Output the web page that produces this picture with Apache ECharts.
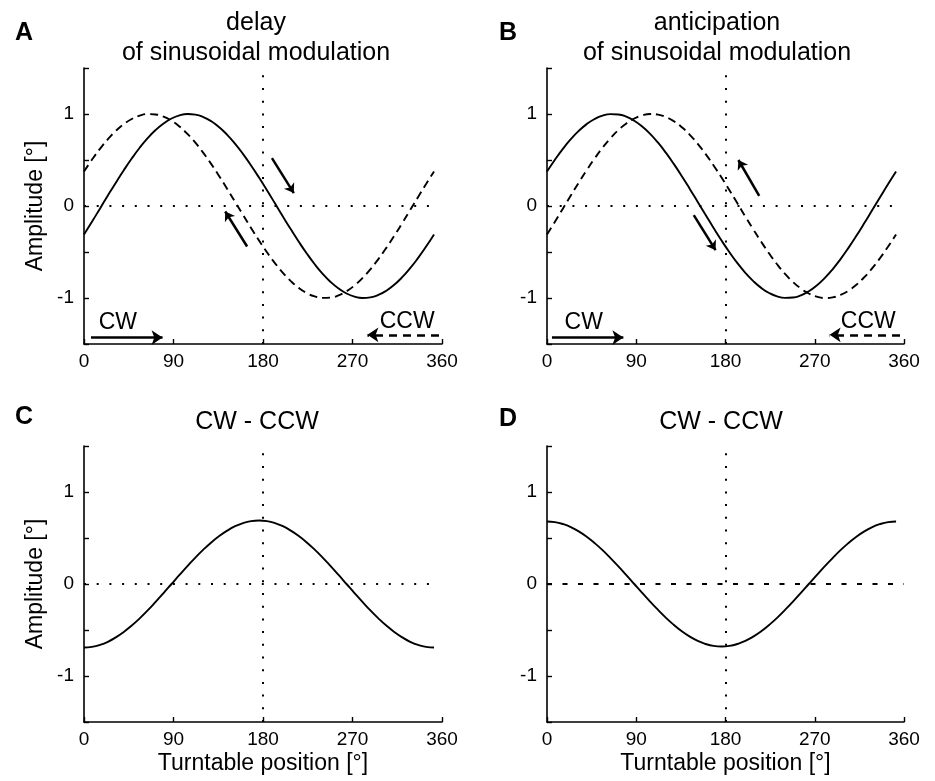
<!DOCTYPE html>
<html>
<head>
<meta charset="utf-8">
<script src="https://cdn.jsdelivr.net/npm/echarts@6/dist/echarts.min.js"></script>
<style>
html, body { margin: 0; padding: 0; background: #fff; }
#chart { width: 935px; height: 781px; }
</style>
</head>
<body>
<div id="chart"></div>
<script>
// turntable position (deg), same for every curve
var pos = [0, 8, 16, 24, 32, 40, 48, 56, 64, 72, 80, 88, 96, 104, 112, 120, 128, 136, 144, 152, 160, 168, 176,
           184, 192, 200, 208, 216, 224, 232, 240, 248, 256, 264, 272, 280, 288, 296, 304, 312, 320, 328, 336, 344, 352];

// A: delay of sinusoidal modulation
var cwDelay  = [-0.309, -0.171, -0.029, 0.114, 0.254, 0.389, 0.516, 0.633, 0.737, 0.826, 0.897, 0.951, 0.985, 1.000, 0.993, 0.967, 0.921, 0.856, 0.774, 0.676, 0.564, 0.441, 0.309,
                0.171, 0.029, -0.114, -0.254, -0.389, -0.516, -0.633, -0.737, -0.826, -0.897, -0.951, -0.985, -1.000, -0.993, -0.967, -0.921, -0.856, -0.774, -0.676, -0.564, -0.441, -0.309];
var ccwDelay = [0.375, 0.503, 0.621, 0.726, 0.816, 0.890, 0.946, 0.983, 0.999, 0.995, 0.971, 0.927, 0.864, 0.784, 0.688, 0.577, 0.455, 0.324, 0.186, 0.044, -0.098, -0.239, -0.375,
                -0.503, -0.621, -0.726, -0.816, -0.890, -0.946, -0.983, -0.999, -0.995, -0.971, -0.927, -0.864, -0.784, -0.688, -0.577, -0.455, -0.324, -0.186, -0.044, 0.098, 0.239, 0.375];
// B: anticipation of sinusoidal modulation
var cwAntic  = [0.375, 0.503, 0.621, 0.726, 0.816, 0.890, 0.946, 0.983, 0.999, 0.995, 0.971, 0.927, 0.864, 0.784, 0.688, 0.577, 0.455, 0.324, 0.186, 0.044, -0.098, -0.239, -0.375,
                -0.503, -0.621, -0.726, -0.816, -0.890, -0.946, -0.983, -0.999, -0.995, -0.971, -0.927, -0.864, -0.784, -0.688, -0.577, -0.455, -0.324, -0.186, -0.044, 0.098, 0.239, 0.375];
var ccwAntic = [-0.309, -0.171, -0.029, 0.114, 0.254, 0.389, 0.516, 0.633, 0.737, 0.826, 0.897, 0.951, 0.985, 1.000, 0.993, 0.967, 0.921, 0.856, 0.774, 0.676, 0.564, 0.441, 0.309,
                0.171, 0.029, -0.114, -0.254, -0.389, -0.516, -0.633, -0.737, -0.826, -0.897, -0.951, -0.985, -1.000, -0.993, -0.967, -0.921, -0.856, -0.774, -0.676, -0.564, -0.441, -0.309];
// C, D: CW - CCW
var diffDelay = [-0.690, -0.683, -0.662, -0.628, -0.580, -0.521, -0.452, -0.373, -0.287, -0.194, -0.098, 0.000, 0.098, 0.194, 0.287, 0.373, 0.452, 0.521, 0.580, 0.628, 0.662, 0.683, 0.690,
                 0.683, 0.662, 0.628, 0.580, 0.521, 0.452, 0.373, 0.287, 0.194, 0.098, 0.000, -0.098, -0.194, -0.287, -0.373, -0.452, -0.521, -0.580, -0.628, -0.662, -0.683, -0.690];
var diffAntic = [0.680, 0.673, 0.652, 0.619, 0.572, 0.514, 0.445, 0.368, 0.282, 0.192, 0.097, 0.000, -0.097, -0.192, -0.282, -0.368, -0.445, -0.514, -0.572, -0.619, -0.652, -0.673, -0.680,
                 -0.673, -0.652, -0.619, -0.572, -0.514, -0.445, -0.368, -0.282, -0.192, -0.097, 0.000, 0.097, 0.192, 0.282, 0.368, 0.445, 0.514, 0.572, 0.619, 0.652, 0.673, 0.680];

// axes
var xTicks = [0, 90, 180, 270, 360];
var yRange = [-1.5, 1.5];
var yStep = 0.5;

// annotation arrows [from, to] in data units
var arrowsA = [[[189, 0.52], [211, 0.14]], [[164, -0.44], [142, -0.06]]];
var arrowsB = [[[214, 0.11], [193, 0.50]], [[148, -0.10], [170, -0.48]]];
var cwArrowA = [[7, -1.43], [79, -1.43]];
var ccwArrowA = [[357, -1.40], [285, -1.40]];
var cwArrowB = [[5, -1.43], [77, -1.43]];
var ccwArrowB = [[356, -1.40], [285, -1.40]];
var dirLabelsA = [['CW', 34, -1.27], ['CCW', 325, -1.26]];
var dirLabelsB = [['CW', 37, -1.27], ['CCW', 324, -1.26]];

var FONT = '"Liberation Sans", Arial, Helvetica, sans-serif';
var DOTS = [2, 10.7];

function pairs(xs, ys) {
  return xs.map(function (x, i) { return [x, ys[i]]; });
}

function arrowItem(a, width, size, type) {
  return [
    { coord: a[0], symbol: 'none', lineStyle: { type: type || 'solid', width: width, color: '#000' } },
    { coord: a[1], symbol: 'arrow', symbolSize: size }
  ];
}

function refLines(hLine) {
  return [
    [{ coord: [180, yRange[0]] }, { coord: [180, yRange[1]] }],
    hLine
  ];
}

function xAxisFor(i, named) {
  return {
    type: 'value', gridIndex: i,
    min: xTicks[0], max: xTicks[xTicks.length - 1], interval: 90,
    name: named ? 'Turntable position [°]' : '',
    nameLocation: 'middle', nameGap: 30,
    nameTextStyle: { color: '#000', fontSize: 23, fontFamily: FONT },
    axisLine: { show: true, onZero: false, lineStyle: { color: '#000', width: 1.6 } },
    axisTick: { show: true, inside: true, length: 5, lineStyle: { color: '#000', width: 1.4 } },
    axisLabel: { color: '#000', fontSize: 19, fontFamily: FONT, margin: 8 },
    splitLine: { show: false }
  };
}

function yAxisFor(i, named) {
  return {
    type: 'value', gridIndex: i,
    min: yRange[0], max: yRange[1], interval: yStep,
    name: named ? 'Amplitude [°]' : '',
    nameLocation: 'middle', nameGap: 37,
    nameTextStyle: { color: '#000', fontSize: 23, fontFamily: FONT },
    axisLine: { show: true, onZero: false, lineStyle: { color: '#000', width: 1.6 } },
    axisTick: { show: true, inside: true, length: 5, lineStyle: { color: '#000', width: 1.4 } },
    axisLabel: {
      color: '#000', fontSize: 19, fontFamily: FONT, margin: 10,
      formatter: function (v) { return Number.isInteger(v) ? String(v) : ''; }
    },
    splitLine: { show: false }
  };
}

function curve(i, ys, dashed, extra) {
  var s = {
    type: 'line', xAxisIndex: i, yAxisIndex: i,
    data: pairs(pos, ys),
    smooth: true, showSymbol: false, silent: true, animation: false,
    lineStyle: { color: '#000', width: 1.9, type: dashed ? [8, 5] : 'solid' }
  };
  return Object.assign(s, extra || {});
}

function marks(data) {
  return {
    silent: true, animation: false, symbol: ['none', 'none'],
    label: { show: false },
    lineStyle: { color: '#000', width: 2, type: DOTS },
    data: data
  };
}

function dirText(list) {
  return {
    symbol: 'circle', symbolSize: 1, silent: true, animation: false,
    itemStyle: { color: 'rgba(0,0,0,0)' },
    label: { show: true, position: 'inside', color: '#000', fontSize: 23, fontFamily: FONT, formatter: '{b}' },
    data: list.map(function (d) { return { name: d[0], coord: [d[1], d[2]] }; })
  };
}

function txt(x, y, s, size, bold) {
  return {
    type: 'text', x: x, y: y, silent: true,
    style: {
      text: s, fill: '#000', fontSize: size, fontFamily: FONT, fontWeight: bold ? 'bold' : 'normal',
      align: 'center', verticalAlign: 'middle', textAlign: 'center', textVerticalAlign: 'middle'
    }
  };
}

var chart = echarts.init(document.getElementById('chart'), null, { renderer: 'canvas' });

var option = {
  backgroundColor: '#fff',
  animation: false,
  grid: [
    { left: 84, top: 68, width: 358, height: 276 },
    { left: 547, top: 68, width: 357, height: 276 },
    { left: 84, top: 446, width: 358, height: 276 },
    { left: 547, top: 446, width: 357, height: 276 }
  ],
  xAxis: [xAxisFor(0, false), xAxisFor(1, false), xAxisFor(2, true), xAxisFor(3, true)],
  yAxis: [yAxisFor(0, true), yAxisFor(1, false), yAxisFor(2, true), yAxisFor(3, false)],
  graphic: [
    txt(24, 33, 'A', 25, true),
    txt(508, 33, 'B', 25, true),
    txt(24, 417, 'C', 25, true),
    txt(508, 419, 'D', 25, true),
    txt(256, 23, 'delay', 25),
    txt(256, 53, 'of sinusoidal modulation', 25),
    txt(717, 23, 'anticipation', 25),
    txt(717, 53, 'of sinusoidal modulation', 25),
    txt(257, 422, 'CW - CCW', 25),
    txt(721, 422, 'CW - CCW', 25)
  ],
  series: [
    // A
    curve(0, cwDelay, false, {
      markLine: marks(refLines([{ coord: [0, 0] }, { coord: [352, 0] }])
        .concat(arrowsA.map(function (a) { return arrowItem(a, 2.5, 9); }))
        .concat([arrowItem(cwArrowA, 2.5, 11)])),
      markPoint: dirText(dirLabelsA)
    }),
    curve(0, ccwDelay, true, {
      markLine: marks([arrowItem(ccwArrowA, 2.5, 11, [8, 6])])
    }),
    // B
    curve(1, cwAntic, false, {
      markLine: marks(refLines([{ coord: [0, 0] }, { coord: [352, 0] }])
        .concat(arrowsB.map(function (a) { return arrowItem(a, 2.5, 9); }))
        .concat([arrowItem(cwArrowB, 2.5, 11)])),
      markPoint: dirText(dirLabelsB)
    }),
    curve(1, ccwAntic, true, {
      markLine: marks([arrowItem(ccwArrowB, 2.5, 11, [8, 6])])
    }),
    // C
    curve(2, diffDelay, false, {
      markLine: marks(refLines([{ coord: [0, 0] }, { coord: [352, 0] }]))
    }),
    // D
    curve(3, diffAntic, false, {
      markLine: marks(refLines([
        { coord: [0, 0], lineStyle: { type: [5, 10.5], width: 2, color: '#000' } },
        { coord: [360, 0] }
      ]))
    })
  ]
};

chart.setOption(option);
</script>
</body>
</html>
